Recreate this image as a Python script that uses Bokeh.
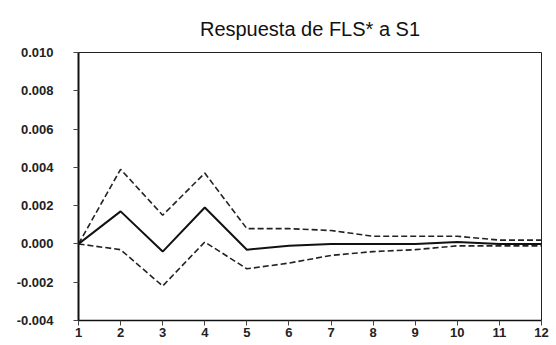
from bokeh.plotting import figure
from bokeh.embed import file_html
from bokeh.resources import INLINE
from bokeh.models import FixedTicker, Range1d

periods = [1, 2, 3, 4, 5, 6, 7, 8, 9, 10, 11, 12]
response = [0.0, 0.0017, -0.0004, 0.0019, -0.0003, -0.0001, 0.0, 0.0, 0.0, 0.0001, 0.0, 0.0]
upper = [0.0, 0.0039, 0.0015, 0.0037, 0.0008, 0.0008, 0.0007, 0.0004, 0.0004, 0.0004, 0.0002, 0.0002]
lower = [0.0, -0.0003, -0.0022, 0.0001, -0.0013, -0.0010, -0.0006, -0.0004, -0.0003, -0.0001, -0.0001, -0.0001]
y_ticks = [-0.004, -0.002, 0.0, 0.002, 0.004, 0.006, 0.008, 0.010]
y_labels = ["-0.004", "-0.002", "0.000", "0.002", "0.004", "0.006", "0.008", "0.010"]
title_text = "Respuesta de FLS* a S1"

p = figure(width=556, height=345, output_backend="svg", toolbar_location=None,
           x_range=Range1d(1, 12), y_range=Range1d(-0.004, 0.010),
           min_border_left=78, min_border_right=15, min_border_top=52, min_border_bottom=25,
           title=title_text)

p.title.text_font = "Liberation Sans"
p.title.text_font_size = "20px"
p.title.text_font_style = "normal"
p.title.text_color = "#111111"
p.title.align = "center"
p.title.standoff = 26

p.background_fill_color = "white"
p.border_fill_color = "white"
p.outline_line_color = "#222222"
p.outline_line_width = 1
p.xgrid.visible = False
p.ygrid.visible = False

p.line(periods, upper, line_color="#222222", line_width=1.6, line_dash="6 3")
p.line(periods, lower, line_color="#222222", line_width=1.6, line_dash="6 3")
p.line(periods, response, line_color="#111111", line_width=2)

p.yaxis.ticker = FixedTicker(ticks=y_ticks)
p.yaxis.major_label_overrides = {t: l for t, l in zip(y_ticks, y_labels)}
p.xaxis.ticker = FixedTicker(ticks=periods)

for ax in (p.xaxis[0], p.yaxis[0]):
    ax.major_label_text_font = "Liberation Sans"
    ax.major_label_text_font_size = "13px"
    ax.major_label_text_font_style = "bold"
    ax.major_label_text_color = "#222222"
    ax.axis_line_color = "#111111"
    ax.major_tick_line_color = "#444444"
    ax.major_tick_in = 0
    ax.major_tick_out = 5
    ax.minor_tick_line_color = None

p.yaxis.axis_line_width = 2
p.yaxis.major_label_standoff = 20
p.xaxis.axis_line_width = 1.5
p.xaxis.major_label_standoff = 2

open("out.html", "w").write(file_html(p, INLINE))
